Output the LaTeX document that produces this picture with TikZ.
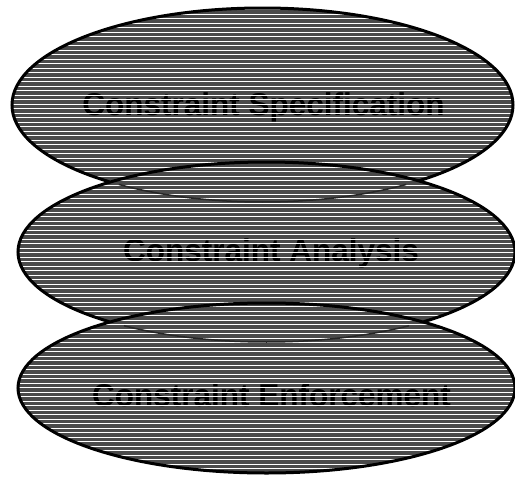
\documentclass[tikz,border=0pt]{standalone}
\usepackage{fontspec}
\setmainfont{Liberation Sans}
\definecolor{fillgray}{gray}{0.29}
\tikzset{
  outline/.style={draw=black, line width=3pt},
  lbl/.style={font=\bfseries\fontsize{31.5}{32}\selectfont, text=black, inner sep=0pt},
  stripe/.style={draw=white, line width=0.9pt},
  ghost/.style={draw=black!85, line width=1.5pt}
}
\newcommand{\stripes}{\foreach \k in {0,...,53} {\draw[stripe] (0,\k*9+0.5) -- (515,\k*9+0.5); \draw[stripe] (0,\k*9+5.5) -- (515,\k*9+5.5);}}
\begin{document}
\begin{tikzpicture}[x=1pt,y=-1pt]
\useasboundingbox (0,0) rectangle (515,477);
% layer 1
\coordinate (c1) at (262.5,105);
\begin{scope}
  \clip (c1) ellipse [x radius=250.5, y radius=97];
  \fill[fillgray] (c1) ellipse [x radius=250.5, y radius=97];
  \node[lbl] (spec) at (263.5,107) {Constraint Specification};
  \stripes
\end{scope}
\draw[outline] (c1) ellipse [x radius=250.5, y radius=97];
% layer 2
\coordinate (c2) at (266.5,252);
\begin{scope}
  \clip (c2) ellipse [x radius=248.5, y radius=90];
  \fill[fillgray] (c2) ellipse [x radius=248.5, y radius=90];
  \node[lbl] (anal) at (271,253) {Constraint Analysis};
  \stripes
  \draw[ghost] (c1) ++(55:250.5 and 97) arc [start angle=55, end angle=125, x radius=250.5, y radius=97];
\end{scope}
\draw[outline] (c2) ellipse [x radius=248.5, y radius=90];
% layer 3
\coordinate (c3) at (266.5,388);
\begin{scope}
  \clip (c3) ellipse [x radius=248.5, y radius=85];
  \fill[fillgray] (c3) ellipse [x radius=248.5, y radius=85];
  \node[lbl] (enf) at (271.5,395) {Constraint Enforcement};
  \stripes
  \draw[ghost] (c2) ++(55:248.5 and 90) arc [start angle=55, end angle=125, x radius=248.5, y radius=90];
\end{scope}
\draw[outline] (c3) ellipse [x radius=248.5, y radius=85];
\end{tikzpicture}
\end{document}
